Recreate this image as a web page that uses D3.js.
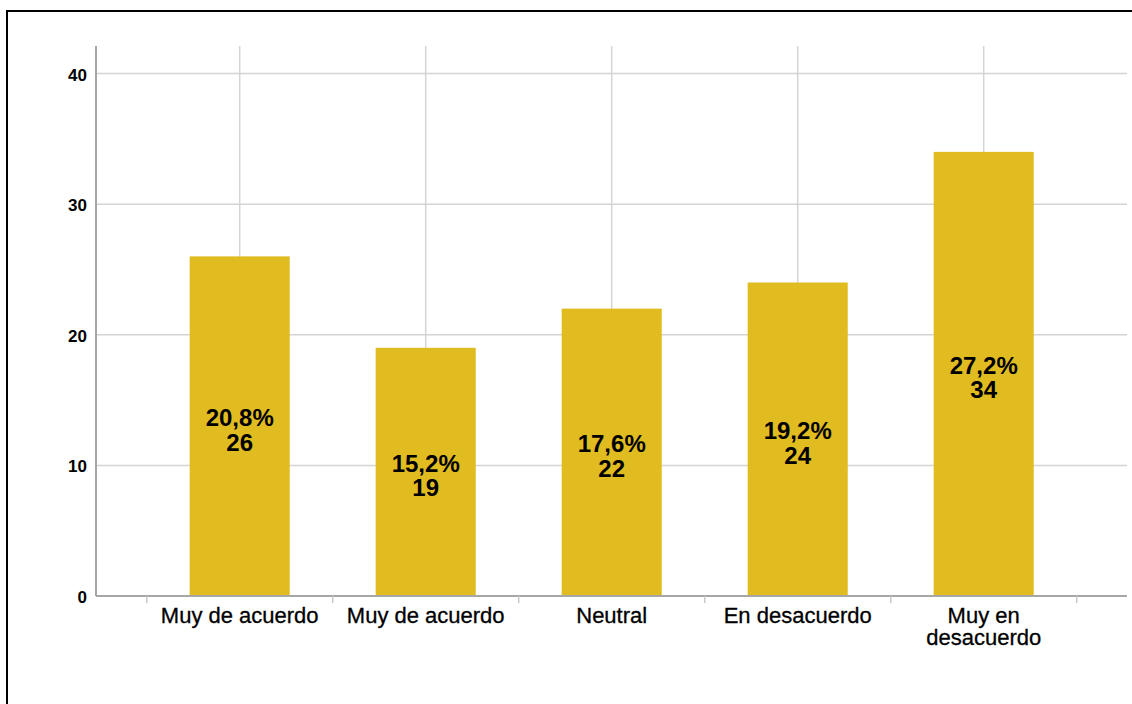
<!DOCTYPE html>
<html>
<head>
<meta charset="utf-8">
<script src="https://cdn.jsdelivr.net/npm/d3@7"></script>
<style>
    body { margin: 0; background: #fff; }
    svg { display: block; font-family: "Liberation Sans", Arial, sans-serif; }
</style>
</head>
<body>
<div id="chart"></div>
<script>
// data
var categories = ["Muy de acuerdo", "Muy de acuerdo", "Neutral", "En desacuerdo", "Muy en desacuerdo"];
var counts = [26, 19, 22, 24, 34];
var percents = ["20,8%", "15,2%", "17,6%", "19,2%", "27,2%"];
var yTicks = [0, 10, 20, 30, 40];

var data = categories.map(function (c, i) {
    return { idx: i, group: c, value: counts[i], pct: percents[i] };
});

// set the dimensions
var W = 1132, H = 704;
var plot = { left: 96, right: 1127, top: 46, bottom: 596 };

var svg = d3.select("#chart")
    .append("svg")
    .attr("width", W)
    .attr("height", H);

// frame around the chart
svg.append("rect")
    .attr("x", 7).attr("y", 11)
    .attr("width", 1140).attr("height", 720)
    .attr("fill", "none")
    .attr("stroke", "#000")
    .attr("stroke-width", 2);

// X scale
var x = d3.scaleBand()
    .domain(data.map(function (d) { return d.idx; }))
    .range([146.7, 1076.7])
    .padding(0);
var barW = x.bandwidth() * 0.538;

// Y scale
var y = d3.scaleLinear()
    .domain([0, 40])
    .range([plot.bottom, 73.5]);

// horizontal gridlines
svg.append("g")
    .selectAll("line")
    .data(yTicks.slice(1))
    .enter()
    .append("line")
    .attr("x1", plot.left)
    .attr("x2", plot.right)
    .attr("y1", function (d) { return y(d); })
    .attr("y2", function (d) { return y(d); })
    .attr("stroke", "#d4d4d4")
    .attr("stroke-width", 1.5);

// vertical gridlines at category centers
svg.append("g")
    .selectAll("line")
    .data(data)
    .enter()
    .append("line")
    .attr("x1", function (d) { return x(d.idx) + x.bandwidth() / 2; })
    .attr("x2", function (d) { return x(d.idx) + x.bandwidth() / 2; })
    .attr("y1", plot.top)
    .attr("y2", plot.bottom)
    .attr("stroke", "#d4d4d4")
    .attr("stroke-width", 1.5);

// bars
svg.append("g")
    .selectAll("rect")
    .data(data)
    .enter()
    .append("rect")
    .attr("x", function (d) { return x(d.idx) + (x.bandwidth() - barW) / 2; })
    .attr("y", function (d) { return y(d.value); })
    .attr("width", barW)
    .attr("height", function (d) { return y(0) - y(d.value); })
    .attr("fill", "#e0bc20");

// labels inside bars
var lab = svg.append("g")
    .selectAll("text")
    .data(data)
    .enter()
    .append("text")
    .attr("text-anchor", "middle")
    .attr("font-weight", "bold")
    .attr("font-size", "24px")
    .attr("fill", "#000")
    .attr("transform", function (d) {
        var cx = x(d.idx) + x.bandwidth() / 2;
        var cy = (y(d.value) + y(0)) / 2;
        return "translate(" + cx + "," + cy + ")";
    });
lab.append("tspan").attr("x", 0).attr("y", 0).text(function (d) { return d.pct; });
lab.append("tspan").attr("x", 0).attr("y", 24.5).text(function (d) { return d.value; });

// Y axis
svg.append("line")
    .attr("x1", plot.left).attr("x2", plot.left)
    .attr("y1", plot.top).attr("y2", plot.bottom)
    .attr("stroke", "#a6a6a6")
    .attr("stroke-width", 2);

svg.append("g")
    .selectAll("text")
    .data(yTicks)
    .enter()
    .append("text")
    .attr("x", 87)
    .attr("y", function (d) { return y(d) + 7; })
    .attr("text-anchor", "end")
    .attr("font-weight", "bold")
    .attr("font-size", "17px")
    .text(function (d) { return d; });

// X axis
svg.append("line")
    .attr("x1", plot.left).attr("x2", plot.right)
    .attr("y1", plot.bottom).attr("y2", plot.bottom)
    .attr("stroke", "#a6a6a6")
    .attr("stroke-width", 2);

var bounds = data.map(function (d) { return x(d.idx); }).concat([x.range()[1]]);
svg.append("g")
    .selectAll("line")
    .data(bounds)
    .enter()
    .append("line")
    .attr("x1", function (d) { return d; })
    .attr("x2", function (d) { return d; })
    .attr("y1", plot.bottom)
    .attr("y2", plot.bottom + 7)
    .attr("stroke", "#c8c8c8")
    .attr("stroke-width", 1.5);

// category labels (wrap long ones)
var catLab = svg.append("g")
    .selectAll("text")
    .data(data)
    .enter()
    .append("text")
    .attr("text-anchor", "middle")
    .attr("font-size", "22px")
    .attr("fill", "#000")
    .attr("stroke", "#000")
    .attr("stroke-width", 0.3)
    .attr("transform", function (d) {
        return "translate(" + (x(d.idx) + x.bandwidth() / 2) + "," + (plot.bottom + 27) + ")";
    });
catLab.each(function (d) {
    var lines = d.group === "Muy en desacuerdo" ? ["Muy en", "desacuerdo"] : [d.group];
    var t = d3.select(this);
    lines.forEach(function (l, i) {
        t.append("tspan").attr("x", 0).attr("y", i * 22).text(l);
    });
});
</script>
</body>
</html>
